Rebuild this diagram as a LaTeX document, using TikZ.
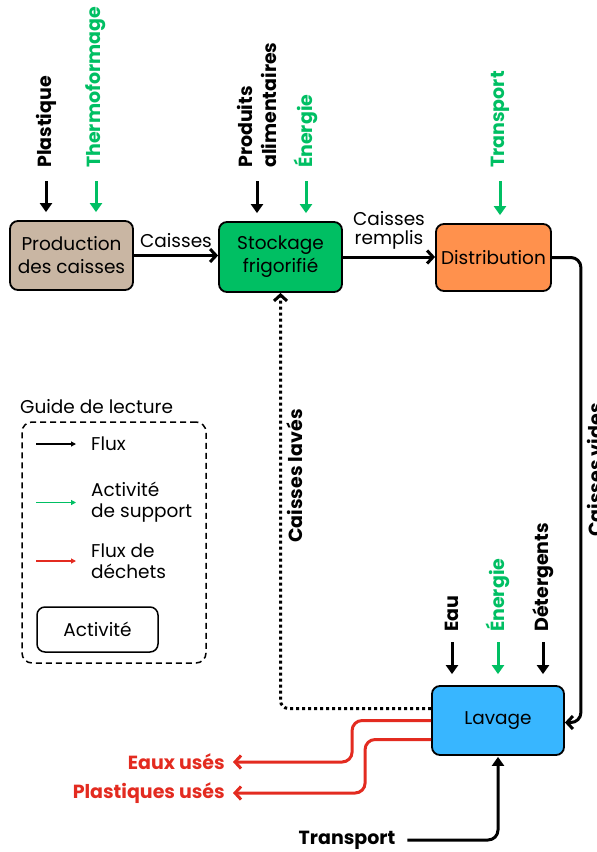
\documentclass[tikz,border=0pt]{standalone}
\usepackage{fontspec}
\setmainfont{Poppins}
\usetikzlibrary{arrows.meta,positioning}
\definecolor{vert}{HTML}{00BF63}
\definecolor{rouge}{HTML}{E32B20}
\definecolor{beige}{HTML}{C9B6A3}
\definecolor{orangebox}{HTML}{FF914D}
\definecolor{bleu}{HTML}{38B6FF}
\tikzset{
  activite/.style={draw=black,line width=1.8pt,rounded corners=8pt,align=center,
    font=\fontsize{18.5}{23}\selectfont,inner sep=2pt},
  lbl/.style={font=\bfseries\fontsize{19}{24}\selectfont,rotate=90,anchor=west,inner sep=0pt,align=left},
  entree/.style={-{Triangle[length=9pt,width=12pt]},line width=3pt},
  flux/.style={-{Straight Barb[length=6pt,width=13pt,line width=3pt]},line width=3pt},
  legfleche/.style={-{Triangle[length=5pt,width=5pt]},line width=1.2pt},
  legtxt/.style={font=\fontsize{18.5}{21}\selectfont,anchor=west,align=left,inner sep=0pt}
}
\begin{document}
\begin{tikzpicture}[x=1pt,y=-1pt]
  \useasboundingbox (0,0) rectangle (597,852);
  \clip (0,0) rectangle (597,852);
  % activites
  \node[activite,fill=beige,minimum width=123pt,minimum height=69pt] (prod) at (71.5,255.5) {Production\\des caisses};
  \node[activite,fill=vert,minimum width=123pt,minimum height=70pt] (stock) at (280.5,257) {Stockage\\frigorifié};
  \node[activite,fill=orangebox,minimum width=115pt,minimum height=67pt] (distr) at (493.5,257.5) {Distribution};
  \node[activite,fill=bleu,minimum width=132pt,minimum height=69pt] (lav) at (498,720.5) {Lavage};

  % entrees du haut
  \node[lbl] (plast) at (46,168) {Plastique};
  \node[lbl,text=vert] (thermo) at (96,168) {Thermoformage};
  \node[lbl] (prodal) at (257,168) {Produits\\alimentaires};
  \node[lbl,text=vert] (energ) at (306,168) {Énergie};
  \node[lbl,text=vert] (transp) at (500,168) {Transport};
  \draw[entree,shorten <=13pt,shorten >=8pt] (plast.west) -- (plast.west |- prod.north);
  \draw[entree,vert,shorten <=13pt,shorten >=8pt] (thermo.west) -- (thermo.west |- prod.north);
  \draw[entree,shorten <=13pt,shorten >=8pt] (prodal.west) -- (prodal.west |- stock.north);
  \draw[entree,vert,shorten <=13pt,shorten >=8pt] (energ.west) -- (energ.west |- stock.north);
  \draw[entree,vert,shorten <=13pt,shorten >=8pt] (transp.west) -- (transp.west |- distr.north);

  % flux principaux
  \draw[flux] (prod.east) -- (prod.east -| stock.west)
    node[midway,above=3pt,font=\fontsize{18.5}{21}\selectfont] (lcaisses) {Caisses};
  \draw[flux] (stock.east) -- (stock.east -| distr.west)
    node[midway,above=3pt,align=center,font=\fontsize{18.5}{19}\selectfont] (lremplis) {Caisses\\remplis};
  \draw[flux,rounded corners=10pt] (distr.east) -- ++(29,0) |- ([yshift=-2pt]lav.east);
  \node[lbl,anchor=north] (lvides) at (587,470) {Caisses vides};
  \draw[flux,dash pattern=on 3pt off 3pt,rounded corners=8pt] ([yshift=12pt]lav.west) -| (stock.south);
  \node[lbl,anchor=center] (llaves) at (295,476) {Caisses lavés};

  % entrees du lavage
  \node[lbl] (eau) at (452,632) {Eau};
  \node[lbl,text=vert] (energb) at (498,632) {Énergie};
  \node[lbl] (deterg) at (543,632) {Détergents};
  \draw[entree,shorten <=10pt,shorten >=11pt] (eau.west) -- (eau.west |- lav.north);
  \draw[entree,vert,shorten <=10pt,shorten >=11pt] (energb.west) -- (energb.west |- lav.north);
  \draw[entree,shorten <=10pt,shorten >=11pt] (deterg.west) -- (deterg.west |- lav.north);

  % dechets
  \node[lbl,rotate=-90,text=rouge,anchor=east] (eaux) at (225,762) {Eaux usés};
  \node[lbl,rotate=-90,text=rouge,anchor=east] (plastu) at (225,793) {Plastiques usés};
  \draw[flux,rouge,rounded corners=10pt] (lav.west) -- ++(-79,0) |- ([xshift=8pt]eaux.east);
  \draw[flux,rouge,rounded corners=10pt] ([yshift=-19pt]lav.west) -- ++(-66,0) |- ([xshift=8pt]plastu.east);

  % transport du bas
  \node[lbl,rotate=-90,anchor=center] (transpb) at (347,840) {Transport};
  \draw[entree,rounded corners=10pt,shorten >=1pt] ([xshift=12pt]transpb.east) -| (lav.south);

  % guide de lecture
  \node[legtxt] (guide) at (20,407) {Guide de lecture};
  \node[draw,dash pattern=on 6pt off 4pt,line width=1.5pt,rounded corners=10pt,minimum width=184pt,minimum height=241pt] (legende) at (114,542.5) {};
  \node[legtxt] (lflux) at (91,444) {Flux};
  \node[legtxt] (lsupport) at (91,502.5) {Activité\\de support};
  \node[legtxt] (ldechets) at (91,561) {Flux de\\déchets};
  \draw[legfleche] ([xshift=-55pt]lflux.west) -- ([xshift=-15pt]lflux.west);
  \draw[legfleche,vert] ([xshift=-55pt]lsupport.west) -- ([xshift=-15pt]lsupport.west);
  \draw[legfleche,rouge] ([xshift=-55pt]ldechets.west) -- ([xshift=-15pt]ldechets.west);
  \node[activite,line width=1.5pt,fill=white,minimum width=121pt,minimum height=45pt] (lactiv) at (97.5,629.5) {Activité};
\end{tikzpicture}
\end{document}
